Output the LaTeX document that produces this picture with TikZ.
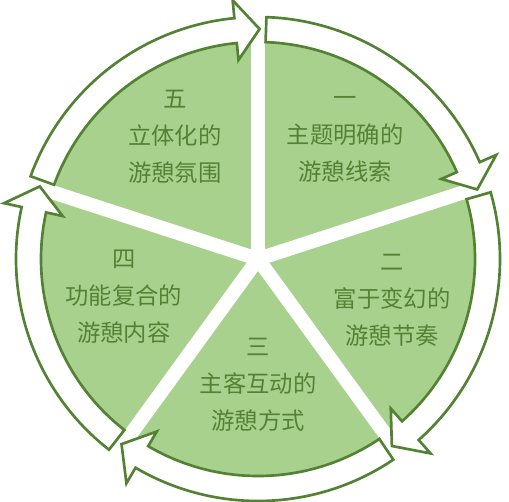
\documentclass[tikz,border=0pt]{standalone}
\usepackage{fontspec}
\usepackage[HTML]{xcolor}
\usepackage{tikz}
\newfontfamily\cjk{Noto Sans CJK SC}
\definecolor{leafgreen}{HTML}{A9D18E}
\definecolor{darkleaf}{HTML}{548235}

\begin{document}
\begin{tikzpicture}[x=0.75pt, y=0.75pt,
  cyclearrow/.style={draw=darkleaf, line width=2pt, fill=white, line join=miter},
  lab/.style={text=darkleaf, font=\cjk\fontsize{17.5}{27.75}\selectfont, align=center}]
\useasboundingbox (-258,-242) rectangle (251,259);

% pie cut into five sectors
\fill[leafgreen] (0,0) circle (230);
\foreach \a in {90,18,-54,-126,162}
  \draw[white, line width=10.5pt] (0,0) -- (\a:236);

% circular arrows, clockwise
\foreach \a in {90,18,-54,-126,162}{
  \pgfmathsetmacro{\t}{\a-2}
  \pgfmathsetmacro{\p}{\a-72.4}
  \pgfmathsetmacro{\h}{\p+6}
  \draw[cyclearrow] (\t:242) arc[start angle=\t, end angle=\h, radius=242]
    -- (\h:260) -- (\p:230) -- (\h:200) -- (\h:217)
    arc[start angle=\h, end angle=\t, radius=217] -- cycle;
}

% sector texts
\node[lab] (one) at (87,120) {一\\主题明确的\\游憩线索};
\node[lab] (two) at (134,-41) {二\\富于变幻的\\游憩节奏};
\node[lab] (three) at (0,-126) {三\\主客互动的\\游憩方式};
\node[lab] (four) at (-134,-38) {四\\功能复合的\\游憩内容};
\node[lab] (five) at (-83,122) {五\\立体化的\\游憩氛围};
\end{tikzpicture}
\end{document}
